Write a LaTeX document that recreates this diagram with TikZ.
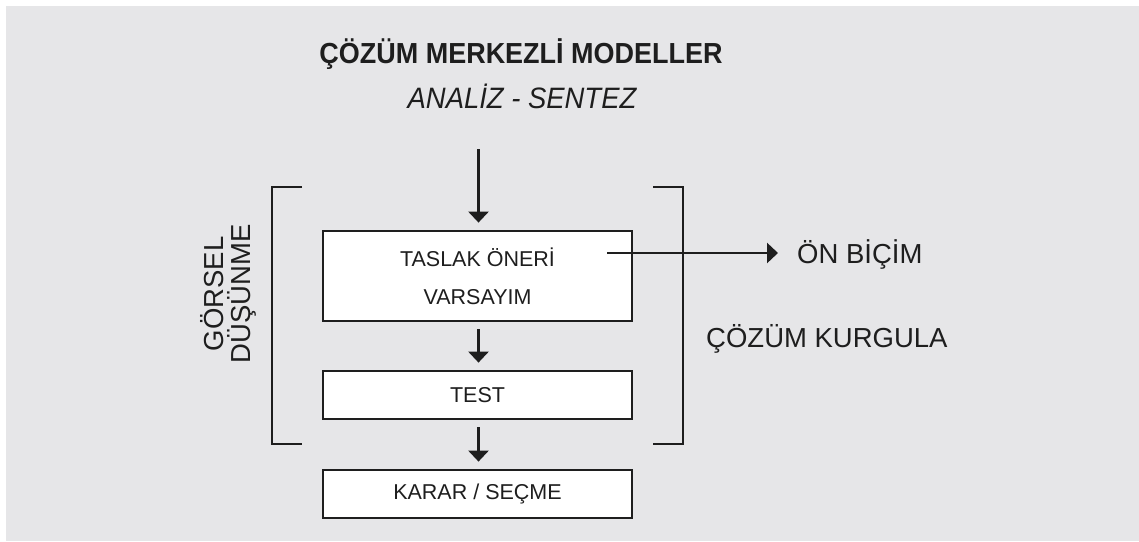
\documentclass[tikz,border=0pt]{standalone}
\usepackage{fontspec}
\setmainfont{Liberation Sans}
\newfontfamily\condfont{Liberation Sans}[FakeStretch=0.93]
\usetikzlibrary{arrows.meta}
\definecolor{bggray}{HTML}{E6E6E8}
\definecolor{ink}{HTML}{1E1E1E}
\tikzset{
  stage/.style={draw=ink, line width=2.8pt, fill=white, minimum width=309pt, inner sep=0pt, align=center, text=ink, font=\fontsize{21.5}{38}\selectfont},
  flow/.style={draw=ink, line width=2.6pt, -{Triangle[width=20pt,length=11pt]}},
  bracketline/.style={draw=ink, line width=2.8pt},
  sidetext/.style={text=ink, inner sep=0pt, font=\fontsize{27.5}{27.5}\selectfont},
}
\begin{document}
\begin{tikzpicture}[x=1pt, y=-1pt]
  \useasboundingbox (0,0) rectangle (1139,541);
  \fill[white] (0,0) rectangle (1139,541);
  \fill[bggray] (6,6) rectangle (1139,541);

  % titles
  \node[anchor=base, inner sep=0pt, text=ink, font=\condfont\bfseries\fontsize{29}{29}\selectfont] (title) at (521,63) {ÇÖZÜM MERKEZLİ MODELLER};
  \node[anchor=base, inner sep=0pt, text=ink, font=\condfont\itshape\fontsize{29.5}{29.5}\selectfont] (subtitle) at (522,108) {ANALİZ - SENTEZ};

  % boxes
  \node[stage, minimum height=90pt] (taslak) at (477.5,276) {TASLAK ÖNERİ\\VARSAYIM};
  \node[stage, minimum height=48pt] (test) at (477.5,395) {TEST};
  \node[stage, minimum height=48pt] (karar) at (477.5,494) {KARAR / SEÇME};

  % arrows
  \coordinate (topstart) at (478.5,149);
  \draw[flow, shorten >=7pt] (topstart) -- (topstart |- taslak.north);
  \draw[flow, shorten <=7pt, shorten >=7pt] (taslak.south -| topstart) -- (test.north -| topstart);
  \draw[flow, shorten <=7pt, shorten >=7pt] (test.south -| topstart) -- (karar.north -| topstart);

  % brackets
  \draw[bracketline] (302,187) -- (272,187) -- (272,444) -- (302,444);
  \draw[bracketline] (653,187) -- (683,187) -- (683,444) -- (653,444);

  % side texts
  \node[sidetext, anchor=base west] (onbicim) at (797,263.5) {ÖN BİÇİM};
  \node[sidetext, anchor=base west] (kurgula) at (706,347) {ÇÖZÜM KURGULA};
  \node[sidetext, anchor=base, rotate=90] (gorsel) at (223,294) {GÖRSEL};
  \node[sidetext, anchor=base, rotate=90] (dusunme) at (250,294) {DÜŞÜNME};

  % output arrow
  \coordinate (obstart) at (607,253);
  \draw[flow, shorten >=19pt] (obstart) -- (obstart -| onbicim.west);
\end{tikzpicture}
\end{document}
